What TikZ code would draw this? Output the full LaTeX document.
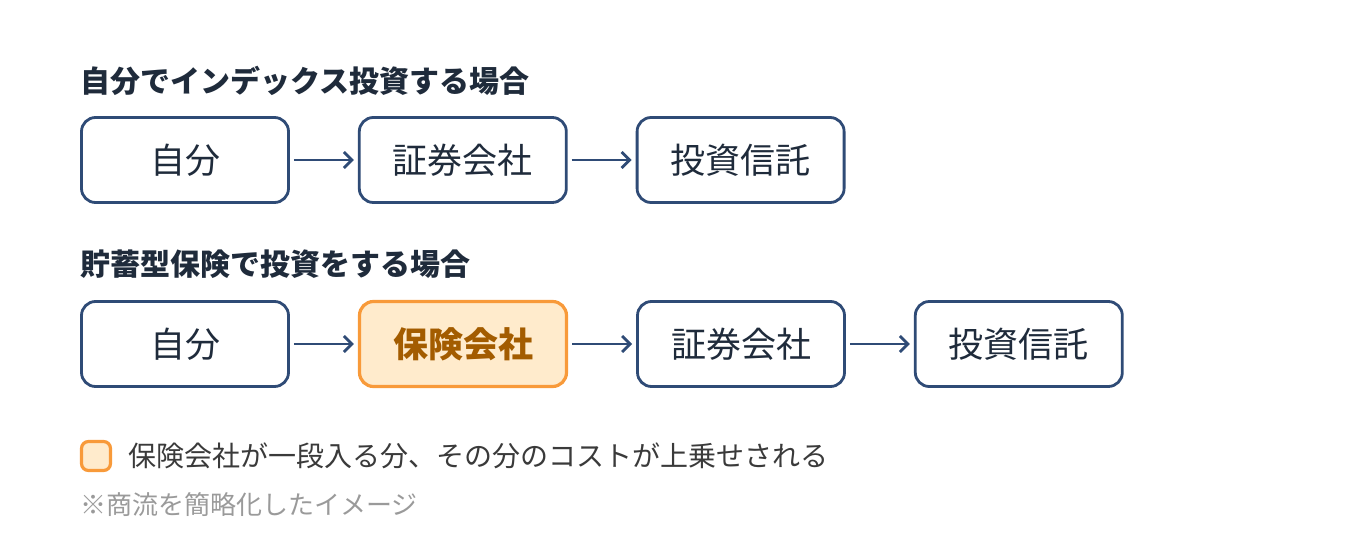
\documentclass[tikz,border=0pt]{standalone}
\usepackage{fontspec}
\setmainfont{Noto Sans CJK JP}
\usetikzlibrary{positioning,arrows.meta}

\definecolor{navy}{HTML}{2F4B76}
\definecolor{ink}{HTML}{1F2B3B}
\definecolor{insline}{HTML}{F89A3A}
\definecolor{insfill}{HTML}{FFEBCC}
\definecolor{instext}{HTML}{A35C00}
\definecolor{notegray}{HTML}{9A9A9A}
\definecolor{legendtext}{HTML}{3A3A3A}

\begin{document}
\begin{tikzpicture}[x=1pt,y=-1pt,
    flow/.style={draw=navy,line width=2.8pt,rounded corners=14pt,fill=white,
      minimum width=207pt,minimum height=85pt,text=ink,
      font=\fontsize{35}{42}\selectfont},
    ins/.style={flow,draw=insline,fill=insfill,text=instext,line width=3.2pt,
      font=\fontsize{35}{42}\selectfont\bfseries},
    link/.style={draw=navy,line width=2.8pt,-{Straight Barb[length=8pt,width=16pt]},
      shorten <=4pt,shorten >=4pt},
    heading/.style={anchor=west,inner sep=0pt,text=ink,
      font=\fontsize{30}{36}\selectfont\bfseries}
  ]
  \useasboundingbox (0,0) rectangle (1360,540);

  \node[heading] (title1) at (80,81) {自分でインデックス投資する場合};
  \node[flow] (self1) at (185,160) {自分};
  \node[flow,right=68pt of self1] (broker1) {証券会社};
  \node[flow,right=68pt of broker1] (fund1) {投資信託};
  \draw[link] (self1) -- (broker1);
  \draw[link] (broker1) -- (fund1);

  \node[heading] (title2) at (80,264) {貯蓄型保険で投資をする場合};
  \node[flow] (self2) at (185,344) {自分};
  \node[ins,right=68pt of self2] (insurer) {保険会社};
  \node[flow,right=68pt of insurer] (broker2) {証券会社};
  \node[flow,right=68pt of broker2] (fund2) {投資信託};
  \draw[link] (self2) -- (insurer);
  \draw[link] (insurer) -- (broker2);
  \draw[link] (broker2) -- (fund2);

  % legend
  \node[draw=insline,fill=insfill,line width=3.2pt,rounded corners=7pt,
    minimum size=29pt,inner sep=0pt] (key) at (96,456) {};
  \node[anchor=west,inner sep=0pt,text=legendtext,font=\fontsize{28}{34}\selectfont,
    right=16pt of key] (keytext) {保険会社が一段入る分、その分のコストが上乗せされる};
  \node[anchor=west,inner sep=0pt,text=notegray,font=\fontsize{26}{31}\selectfont]
    (note) at (80,505) {※商流を簡略化したイメージ};
\end{tikzpicture}
\end{document}
